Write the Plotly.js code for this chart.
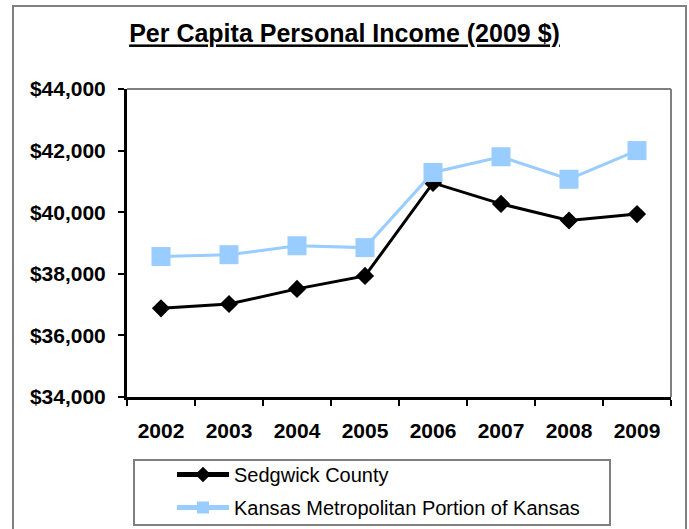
<!DOCTYPE html>
<html>
<head>
<meta charset="utf-8">
<script src="https://cdn.plot.ly/plotly-3.0.1.min.js"></script>
<style>
  html, body { margin: 0; padding: 0; background: #ffffff; }
  #chart { width: 689px; height: 529px; }
</style>
</head>
<body>
<div id="chart"></div>
<script>
var years = ['2002', '2003', '2004', '2005', '2006', '2007', '2008', '2009'];
var sedgwick = [36880, 37020, 37510, 37930, 40950, 40270, 39730, 39940];
var kansasMetro = [38560, 38620, 38910, 38850, 41290, 41800, 41070, 42000];
var seriesNames = ['Sedgwick County', 'Kansas Metropolitan Portion of Kansas'];
var yTicks = [34000, 36000, 38000, 40000, 42000, 44000];
var yTickLabels = ['$34,000', '$36,000', '$38,000', '$40,000', '$42,000', '$44,000'];

var FONT = 'Liberation Sans, Arial, Helvetica, sans-serif';

// plot area in pixels: left 127, right 671, top 89, bottom 397
var PL = 127, PR = 671, PT = 89, PB = 397;
function px(x) { return (x - PL) / (PR - PL); }
function py(y) { return (PB - y) / (PB - PT); }

var traces = [
  {
    x: years, y: sedgwick, name: seriesNames[0], type: 'scatter', mode: 'lines+markers',
    legendgroup: 'a',
    line: { color: '#000000', width: 3 },
    marker: { symbol: 'diamond', size: 14, color: '#000000' }
  },
  {
    x: years, y: kansasMetro, name: seriesNames[1], type: 'scatter', mode: 'lines+markers',
    legendgroup: 'b',
    line: { color: '#99CCFF', width: 3 },
    marker: { symbol: 'square', size: 19, color: '#99CCFF' }
  }
];

var layout = {
  width: 689, height: 529,
  margin: { l: PL, r: 689 - PR, t: PT, b: 529 - PB, autoexpand: false },
  paper_bgcolor: '#ffffff', plot_bgcolor: '#ffffff',
  font: { family: FONT, color: '#000000' },
  title: {
    text: 'Per Capita Personal Income (2009 $)',
    font: { family: FONT, size: 25, weight: 'bold', color: '#000000', lineposition: 'under' },
    xref: 'container', x: 0.5, xanchor: 'center',
    yref: 'container', y: 1 - 33.7 / 529, yanchor: 'middle'
  },
  xaxis: {
    type: 'category',
    showgrid: false, zeroline: false,
    showline: true, linecolor: '#000000', linewidth: 3,
    ticks: 'outside', ticklen: 6, tickwidth: 2, tickcolor: '#000000',
    tickson: 'boundaries',
    ticklabelstandoff: 13,
    tickfont: { family: FONT, size: 21, weight: 'bold', color: '#000000' },
    range: [-0.5, 7.5]
  },
  yaxis: {
    range: [34000, 44000],
    tickmode: 'array', tickvals: yTicks, ticktext: yTickLabels,
    showgrid: false, zeroline: false,
    showline: true, linecolor: '#000000', linewidth: 3,
    ticks: 'outside', ticklen: 6, tickwidth: 2, tickcolor: '#000000',
    ticklabelstandoff: 8,
    tickfont: { family: FONT, size: 21, weight: 'bold', color: '#000000' }
  },
  showlegend: true,
  legend: {
    xref: 'container', yref: 'container',
    x: 133 / 689, xanchor: 'left',
    y: 1 - 455 / 529, yanchor: 'top',
    bgcolor: 'rgba(0,0,0,0)', borderwidth: 0,
    font: { family: FONT, size: 20, color: '#000000' },
    itemwidth: 52,
    itemsizing: 'constant',
    indentation: 39,
    tracegroupgap: 4,
    traceorder: 'grouped'
  },
  shapes: [
    { type: 'line', xref: 'paper', yref: 'paper', x0: 0, x1: 1, y0: 1, y1: 1,
      line: { color: '#808080', width: 2 }, layer: 'below' },
    { type: 'line', xref: 'paper', yref: 'paper', x0: 1, x1: 1, y0: 0, y1: 1,
      line: { color: '#808080', width: 2 }, layer: 'below' },
    { type: 'rect', xref: 'paper', yref: 'paper',
      x0: px(13), x1: px(686), y0: py(540), y1: py(6),
      line: { color: '#808080', width: 2 }, fillcolor: 'rgba(0,0,0,0)', layer: 'below' },
    { type: 'rect', xref: 'paper', yref: 'paper',
      x0: px(134), x1: px(610), y0: py(525), y1: py(460),
      line: { color: '#808080', width: 2 }, fillcolor: 'rgba(0,0,0,0)', layer: 'below' }
  ]
};

Plotly.newPlot('chart', traces, layout, { staticPlot: true, displayModeBar: false });
</script>
</body>
</html>
